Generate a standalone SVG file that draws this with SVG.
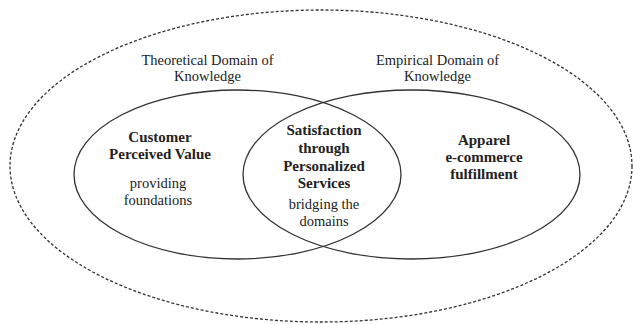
<svg xmlns="http://www.w3.org/2000/svg" width="633" height="324" viewBox="0 0 633 324">
<style>
.t{font-family:"Liberation Serif","Times New Roman",serif;font-size:14.5px;fill:#222;text-anchor:middle}
.b{font-weight:bold;font-size:15px}
.e{fill:none;stroke:#333;stroke-width:1.3}
.d{fill:none;stroke:#333;stroke-width:1.3;stroke-dasharray:3 2}
</style>
<rect width="633" height="324" fill="#fff"/>
<g id="outer">
<ellipse class="d" cx="321" cy="166" rx="311" ry="156"/>
</g>
<g id="theoretical">
<ellipse class="e" cx="237.5" cy="174.5" rx="163.5" ry="84.5"/>
<text class="t" x="207.5" y="65">Theoretical Domain of</text>
<text class="t" x="207.5" y="81">Knowledge</text>
<text class="t b" x="160" y="142">Customer</text>
<text class="t b" x="160" y="159">Perceived Value</text>
<text class="t" x="158" y="188">providing</text>
<text class="t" x="158" y="205">foundations</text>
</g>
<g id="empirical">
<ellipse class="e" cx="411.5" cy="174.5" rx="168.5" ry="84.5"/>
<text class="t" x="437.5" y="65">Empirical Domain of</text>
<text class="t" x="437.5" y="81">Knowledge</text>
<text class="t b" x="484" y="145">Apparel</text>
<text class="t b" x="484" y="162">e-commerce</text>
<text class="t b" x="484" y="179">fulfillment</text>
</g>
<g id="intersection">
<text class="t b" x="324" y="135">Satisfaction</text>
<text class="t b" x="324" y="153">through</text>
<text class="t b" x="324" y="171">Personalized</text>
<text class="t b" x="324" y="188">Services</text>
<text class="t" x="324" y="209">bridging the</text>
<text class="t" x="324" y="226">domains</text>
</g>
<g id="connectors"></g>
</svg>
